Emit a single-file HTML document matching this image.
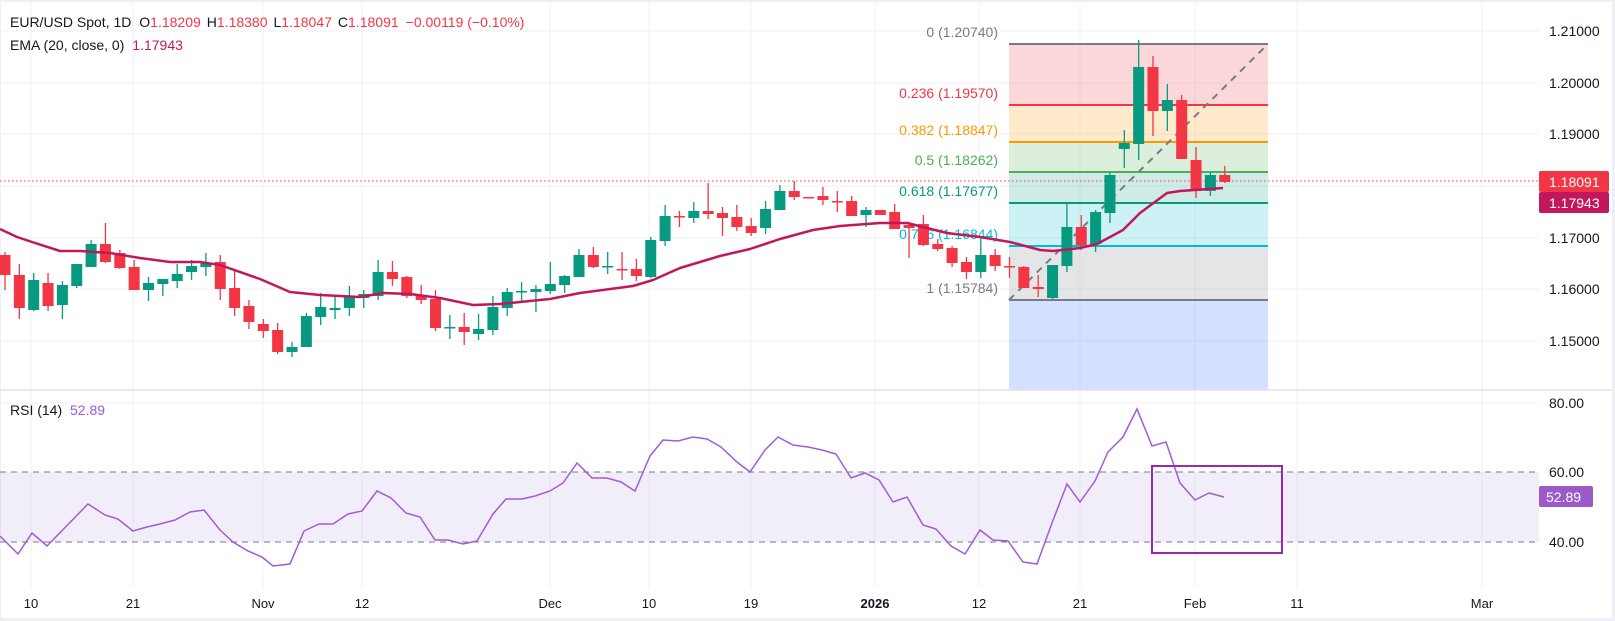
<!DOCTYPE html>
<html><head><meta charset="utf-8"><style>
html,body{margin:0;padding:0;width:1615px;height:621px;overflow:hidden;background:#eef0f5}
svg{display:block;font-family:"Liberation Sans",sans-serif}
</style></head><body>
<svg id="s" width="1615" height="621" viewBox="0 0 1615 621">
<rect x="1" y="2" width="1611" height="616" fill="#fff"/>
<g stroke="#f0f2f6" stroke-width="1">
<line x1="0" y1="31" x2="1539" y2="31"/><line x1="0" y1="83" x2="1539" y2="83"/><line x1="0" y1="134" x2="1539" y2="134"/><line x1="0" y1="186" x2="1539" y2="186"/><line x1="0" y1="238" x2="1539" y2="238"/><line x1="0" y1="289" x2="1539" y2="289"/><line x1="0" y1="341" x2="1539" y2="341"/>
<line x1="0" y1="403" x2="1539" y2="403"/>
<line x1="31" y1="2" x2="31" y2="588"/><line x1="133" y1="2" x2="133" y2="588"/><line x1="263" y1="2" x2="263" y2="588"/><line x1="362" y1="2" x2="362" y2="588"/><line x1="550" y1="2" x2="550" y2="588"/><line x1="649" y1="2" x2="649" y2="588"/><line x1="751" y1="2" x2="751" y2="588"/><line x1="875" y1="2" x2="875" y2="588"/><line x1="979" y1="2" x2="979" y2="588"/><line x1="1080" y1="2" x2="1080" y2="588"/><line x1="1195" y1="2" x2="1195" y2="588"/><line x1="1297" y1="2" x2="1297" y2="588"/><line x1="1482" y1="2" x2="1482" y2="588"/>
</g>
<!-- fib zones -->
<rect x="1009" y="44" width="259" height="61" fill="#f23645" fill-opacity="0.2"/>
<rect x="1009" y="105" width="259" height="37" fill="#ff9800" fill-opacity="0.2"/>
<rect x="1009" y="142" width="259" height="30" fill="#4caf50" fill-opacity="0.2"/>
<rect x="1009" y="172" width="259" height="31" fill="#089981" fill-opacity="0.2"/>
<rect x="1009" y="203" width="259" height="43" fill="#00bcd4" fill-opacity="0.2"/>
<rect x="1009" y="246" width="259" height="54" fill="#787b86" fill-opacity="0.2"/>
<rect x="1009" y="300" width="259" height="90" fill="#2962ff" fill-opacity="0.2"/>
<g stroke-width="2">
<line x1="1009" y1="44" x2="1268" y2="44" stroke="#787b86"/>
<line x1="1009" y1="105" x2="1268" y2="105" stroke="#f23645"/>
<line x1="1009" y1="142" x2="1268" y2="142" stroke="#ff9800"/>
<line x1="1009" y1="172" x2="1268" y2="172" stroke="#4caf50"/>
<line x1="1009" y1="203" x2="1268" y2="203" stroke="#089981"/>
<line x1="1009" y1="246" x2="1268" y2="246" stroke="#00bcd4"/>
<line x1="1009" y1="300" x2="1268" y2="300" stroke="#787b86"/>
</g>
<line x1="1009" y1="300" x2="1268" y2="44" stroke="#787b86" stroke-width="2" stroke-dasharray="7 6"/>
<g font-size="14" text-anchor="end">
<text x="998" y="37" fill="#787b86">0 (1.20740)</text>
<text x="998" y="98" fill="#f23645">0.236 (1.19570)</text>
<text x="998" y="135" fill="#ff9800">0.382 (1.18847)</text>
<text x="998" y="165" fill="#4caf50">0.5 (1.18262)</text>
<text x="998" y="196" fill="#089981">0.618 (1.17677)</text>
<text x="998" y="239" fill="#00bcd4">0.786 (1.16844)</text>
<text x="998" y="293" fill="#787b86">1 (1.15784)</text>
</g>
<line x1="0" y1="181" x2="1539" y2="181" stroke="#f23645" stroke-width="1" stroke-dasharray="1.5 2.5"/>
<g id="candles"></g>
<polyline fill="none" stroke="#c2185b" stroke-width="2.5" stroke-linejoin="round" points="0,229 17,237 32,242 60,251 80,251 110,253 140,258 170,262 200,262 220,265 260,279 290,292 320,295 360,297 383,293 410,294 440,298 473,305 500,304 520,302 550,299 580,293 633,286 653,280 680,268 720,256 750,249 780,239 813,230 840,226 880,223 907,223 947,233 980,237 1010,242 1040,250 1053,251 1080,248 1097,244 1123,230 1140,213 1167,193 1180,191 1223,188"/>
<line x1="0" y1="390" x2="1612" y2="390" stroke="#e0e3eb" stroke-width="1.5"/>
<!-- RSI -->
<rect x="0" y="472" width="1539" height="70" fill="#7e57c2" fill-opacity="0.1"/>
<line x1="0" y1="472" x2="1539" y2="472" stroke="#787b86" stroke-dasharray="6 5"/>
<line x1="0" y1="542" x2="1539" y2="542" stroke="#787b86" stroke-dasharray="6 5"/>
<polyline fill="none" stroke="#a35bd1" stroke-width="1.5" points="0,536 18,554 32,533 47,546 88,504 105,515 118,519 133,531 147,527 160,524 175,520 190,512 204,510 220,530 233,542 248,551 262,557 273,566 290,564 304,531 319,524 333,524 348,514 362,511 377,491 391,498 406,513 420,517 435,540 448,540 463,544 477,541 493,514 506,499 522,499 535,496 550,491 563,483 577,463 592,478 607,478 621,482 635,491 650,456 663,440 678,441 693,437 707,439 721,447 737,462 750,472 765,450 778,437 793,445 808,447 822,450 836,454 851,478 865,473 879,480 893,502 907,497 923,525 936,529 951,546 965,554 980,530 993,540 1008,541 1023,562 1037,564 1052,523 1067,484 1080,502 1095,481 1108,452 1123,437 1137,409 1152,446 1166,442 1180,483 1195,500 1209,493 1224,497"/>
<rect x="1152" y="466" width="130" height="87" fill="none" stroke="#9c27b0" stroke-width="2"/>
<!-- legend -->
<g font-size="14">
<text x="10" y="27" fill="#131722">EUR/USD Spot, 1D <tspan dx="4">O</tspan><tspan fill="#f23645">1.18209</tspan><tspan dx="6">H</tspan><tspan fill="#f23645">1.18380</tspan><tspan dx="6">L</tspan><tspan fill="#f23645">1.18047</tspan><tspan dx="6">C</tspan><tspan fill="#f23645">1.18091</tspan><tspan dx="7" fill="#f23645">−0.00119 (−0.10%)</tspan></text>
<text x="10" y="50" fill="#131722">EMA (20, close, 0) <tspan dx="4" fill="#c2185b">1.17943</tspan></text>
<text x="10" y="415" fill="#131722">RSI (14) <tspan dx="4" fill="#9c5ad4">52.89</tspan></text>
</g>
<!-- price axis -->
<g font-size="14" fill="#131722">
<text x="1549" y="36">1.21000</text><text x="1549" y="88">1.20000</text><text x="1549" y="139">1.19000</text><text x="1549" y="243">1.17000</text><text x="1549" y="294">1.16000</text><text x="1549" y="346">1.15000</text>
<text x="1549" y="408">80.00</text><text x="1549" y="477">60.00</text><text x="1549" y="547">40.00</text>
</g>
<rect x="1539" y="171" width="70" height="21" fill="#f23645" rx="2"/>
<rect x="1539" y="192" width="70" height="21" fill="#c2185b" rx="2"/>
<text x="1549" y="187" font-size="14" fill="#fff">1.18091</text>
<text x="1549" y="208" font-size="14" fill="#fff">1.17943</text>
<rect x="1539" y="486" width="54" height="21" fill="#9c59c9" rx="2"/>
<text x="1546" y="502" font-size="14" fill="#fff">52.89</text>
<!-- time axis -->
<g font-size="13" fill="#131722" text-anchor="middle">
<text x="31" y="608">10</text><text x="133" y="608">21</text><text x="263" y="608">Nov</text><text x="362" y="608">12</text><text x="550" y="608">Dec</text><text x="649" y="608">10</text><text x="751" y="608">19</text><text x="875" y="608" font-weight="bold">2026</text><text x="979" y="608">12</text><text x="1080" y="608">21</text><text x="1195" y="608">Feb</text><text x="1297" y="608">11</text><text x="1482" y="608">Mar</text>
</g>
</svg>
<script>
var d=[[255,275,252,290,'r'],[275,308,264,319,'r'],[280,310,273,311,'g'],[283,306,273,311,'r'],[285,305,281,319,'g'],[264,286,264,288,'g'],[244,267,240,267,'g'],[244,262,223,263,'r'],[253,268,250,269,'r'],[267,290,260,290,'r'],[283,290,277,301,'g'],[279,284,279,296,'g'],[274,281,264,288,'g'],[266,272,260,280,'g'],[263,267,253,276,'g'],[262,289,255,300,'r'],[288,308,270,316,'r'],[306,322,300,329,'r'],[324,331,319,338,'r'],[330,352,323,354,'r'],[347,352,342,357,'g'],[316,347,313,347,'g'],[307,317,293,325,'g'],[308,310,297,319,'g'],[297,308,286,316,'g'],[294,298,290,308,'g'],[272,296,260,300,'g'],[272,279,261,286,'r'],[277,296,276,298,'r'],[295,300,285,304,'r'],[299,328,290,331,'r'],[327,328,315,339,'g'],[327,332,313,345,'r'],[329,334,314,340,'g'],[307,330,296,335,'g'],[292,308,288,316,'g'],[291,292,282,301,'g'],[289,292,285,312,'g'],[284,291,262,294,'g'],[276,285,275,293,'g'],[255,277,249,277,'g'],[255,267,247,268,'r'],[266,267,252,274,'g'],[269,270,252,280,'r'],[269,276,259,281,'r'],[240,277,237,278,'g'],[216,241,205,246,'g'],[216,217,211,227,'r'],[211,218,202,223,'g'],[211,214,183,219,'r'],[213,218,207,236,'r'],[217,227,205,231,'r'],[226,233,218,236,'r'],[209,228,201,234,'g'],[191,210,185,210,'g'],[191,197,181,200,'r'],[197,198,197,198,'r'],[196,200,187,205,'r'],[201,202,191,212,'r'],[201,216,196,216,'r'],[210,215,207,227,'g'],[210,215,210,215,'r'],[212,229,204,229,'r'],[225,228,222,258,'r'],[224,245,215,246,'r'],[244,249,239,251,'r'],[248,263,246,267,'r'],[262,272,257,279,'r'],[255,272,237,278,'g'],[255,266,249,271,'r'],[266,267,257,278,'r'],[267,288,266,288,'r'],[287,289,275,297,'r'],[265,298,265,299,'g'],[227,266,203,272,'g'],[227,245,215,250,'r'],[212,244,210,252,'g'],[175,213,172,223,'g'],[143,149,130,168,'g'],[67,144,40,160,'g'],[67,111,56,136,'r'],[100,111,84,131,'g'],[100,159,95,159,'r'],[160,191,147,198,'r'],[175,191,172,196,'g'],[175,182,166,183,'r']];
var g=document.getElementById('candles'),ns='http://www.w3.org/2000/svg',h='';
for(var i=0;i<d.length;i++){var c=d[i],x=5+i*14.35,col=c[4]=='g'?'#089981':'#f23645';
var t=c[0],b=Math.max(c[1],c[0]+1.5);
h+='<line x1="'+x+'" x2="'+x+'" y1="'+c[2]+'" y2="'+c[3]+'" stroke="'+col+'" stroke-width="1.3"/>';
h+='<rect x="'+(x-5.5)+'" y="'+t+'" width="11" height="'+(b-t)+'" fill="'+col+'"/>';}
g.innerHTML=h;
</script>
</body></html>
